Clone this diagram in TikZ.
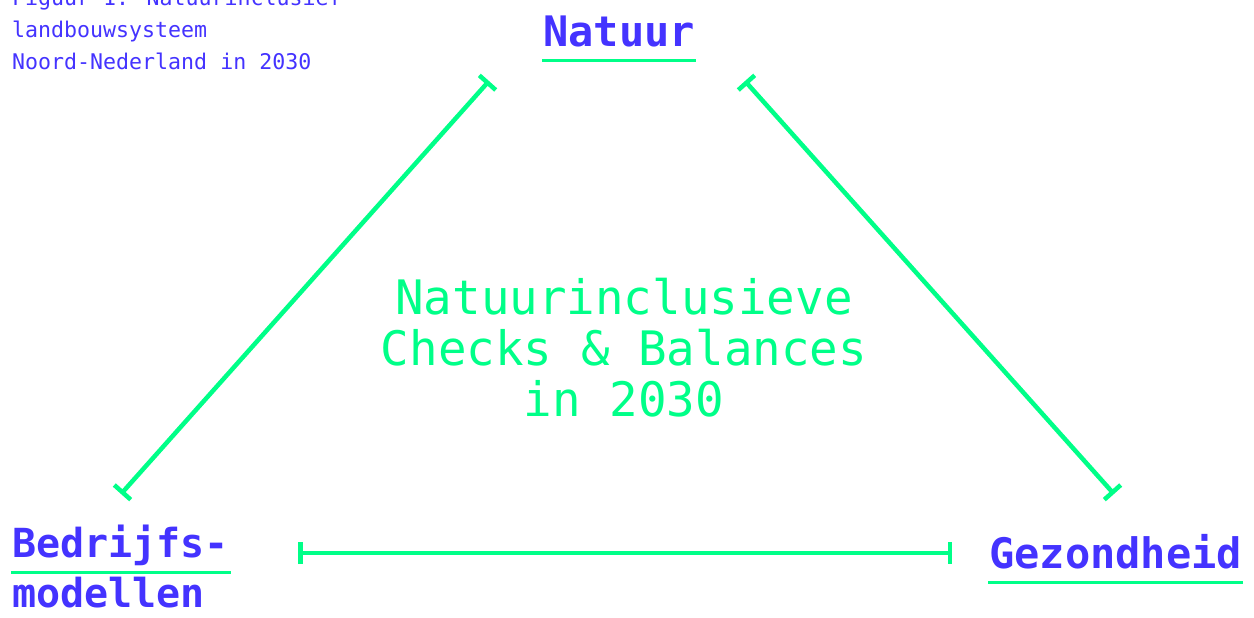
\documentclass[tikz,border=0pt]{standalone}
\usepackage{fontspec}
\setmainfont{DejaVu Sans Mono}
\usetikzlibrary{arrows.meta}
\definecolor{tgreen}{HTML}{00FF88}
\definecolor{tblue}{HTML}{4433FF}
\tikzset{
  caption/.style={anchor=base west, inner sep=0pt, text=tblue, font=\fontsize{21.6}{32}\selectfont},
  label/.style={anchor=base west, inner sep=0pt, text=tblue, font=\fontsize{42}{50}\selectfont\bfseries},
  uline/.style={draw=tgreen, line width=3pt},
  link/.style={draw=tgreen, line width=4.5pt, {Bar[width=22pt,line width=4.5pt]}-{Bar[width=22pt,line width=4.5pt]}},
  center/.style={inner sep=0pt, text=tgreen, align=center, font=\fontsize{47.5}{51}\selectfont}
}
\begin{document}
\begin{tikzpicture}[x=1pt,y=-1pt]
\useasboundingbox (0,0) rectangle (1254,618);
% caption
\node[caption] (c1) at (12,6) {Figuur 1. Natuurinclusief};
\node[caption] (c2) at (12,38) {landbouwsysteem};
\node[caption] (c3) at (12,70) {Noord-Nederland in 2030};
% labels
\node[label] (nat) at (543,47) {Natuur};
\draw[uline] ([xshift=-1pt,yshift=-14pt]nat.base west) -- ([xshift=1pt,yshift=-14pt]nat.base east);
\node[label, font=\fontsize{40}{50}\selectfont\bfseries] (bed) at (12,557) {Bedrijfs-};
\draw[uline] ([xshift=-1pt,yshift=-15pt]bed.base west) -- ([xshift=2pt,yshift=-15pt]bed.base east);
\node[label, font=\fontsize{40}{50}\selectfont\bfseries] (mod) at (12,607) {modellen};
\node[label] (gez) at (989,568) {Gezondheid};
\draw[uline] ([xshift=-1pt,yshift=-14pt]gez.base west) -- ([xshift=1pt,yshift=-14pt]gez.base east);
% center
\node[center] (mid) at (624,348) {Natuurinclusieve\\Checks \& Balances\\in 2030};
% connectors
\coordinate (ltop) at (489,81);
\coordinate (lbot) at (121,494);
\coordinate (rtop) at (745,81);
\coordinate (rbot) at (1114,494);
\coordinate (hl) at (298,553);
\coordinate (hr) at (952,553);
\draw[link] (ltop) -- (lbot);
\draw[link] (rtop) -- (rbot);
\draw[link] (hl) -- (hr);
\end{tikzpicture}
\end{document}
